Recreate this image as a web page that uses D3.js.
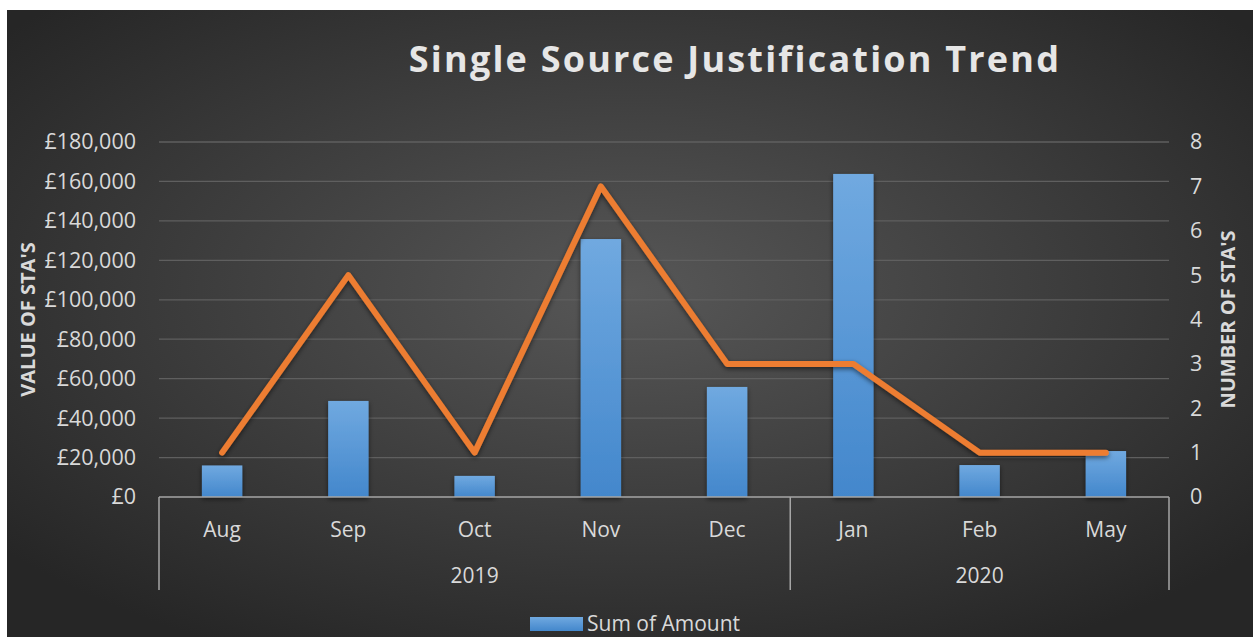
<!DOCTYPE html>
<html>
<head>
<meta charset="utf-8">
<script src="https://cdn.jsdelivr.net/npm/d3@7"></script>
<style>
  body { margin: 0; background: #fff; }
  text { font-family: "Open Sans", "Noto Sans", sans-serif; }
</style>
</head>
<body>
<script>
const months = ['Aug', 'Sep', 'Oct', 'Nov', 'Dec', 'Jan', 'Feb', 'May'];
const years = [
  { label: '2019', from: 0, to: 5 },
  { label: '2020', from: 5, to: 8 }
];
const amounts = [16000, 48700, 10700, 130800, 55800, 163800, 16200, 23300];
const counts = [1, 5, 1, 7, 3, 3, 1, 1];
const leftTicks = [0, 20000, 40000, 60000, 80000, 100000, 120000, 140000, 160000, 180000];
const rightTicks = [0, 1, 2, 3, 4, 5, 6, 7, 8];

const W = 1253, H = 637;
const plot = { left: 159, right: 1169, top: 142, bottom: 497 };

const svg = d3.select('body').append('svg')
  .attr('width', W).attr('height', H);

const defs = svg.append('defs');
const bg = defs.append('radialGradient').attr('id', 'bg')
  .attr('cx', '50%').attr('cy', '45%').attr('r', '65%');
bg.append('stop').attr('offset', '0%').attr('stop-color', '#575757');
bg.append('stop').attr('offset', '100%').attr('stop-color', '#262626');

const barGrad = defs.append('linearGradient').attr('id', 'bar')
  .attr('x1', 0).attr('y1', 0).attr('x2', 0).attr('y2', 1);
barGrad.append('stop').attr('offset', '0%').attr('stop-color', '#70a9e0');
barGrad.append('stop').attr('offset', '100%').attr('stop-color', '#4387cc');

const shadow = defs.append('filter').attr('id', 'shadow')
  .attr('x', '-20%').attr('y', '-20%').attr('width', '140%').attr('height', '140%');
shadow.append('feDropShadow').attr('dx', 0).attr('dy', 2)
  .attr('stdDeviation', 2.5).attr('flood-color', '#000').attr('flood-opacity', 0.55);

svg.append('rect').attr('x', 7).attr('y', 10)
  .attr('width', W - 7).attr('height', H - 10).attr('fill', 'url(#bg)');

const x = d3.scaleBand().domain(months).range([plot.left, plot.right]).paddingInner(0.68).paddingOuter(0.34);
const yL = d3.scaleLinear().domain([0, 180000]).range([plot.bottom, plot.top]);
const yR = d3.scaleLinear().domain([0, 8]).range([plot.bottom, plot.top]);

// gridlines
svg.append('g').selectAll('line').data(leftTicks.slice(1)).join('line')
  .attr('x1', plot.left).attr('x2', plot.right)
  .attr('y1', d => yL(d)).attr('y2', d => yL(d))
  .attr('stroke', '#5f5f5f').attr('stroke-width', 1.3);

// left axis
const axL = svg.append('g').attr('transform', `translate(${plot.left},0)`)
  .call(d3.axisLeft(yL).tickValues(leftTicks).tickSize(0).tickPadding(23)
    .tickFormat(d => '£' + d3.format(',')(d)));
axL.select('.domain').remove();
axL.selectAll('text').attr('fill', '#d9d9d9').style('font-size', '21.5px');

// right axis
const axR = svg.append('g').attr('transform', `translate(${plot.right},0)`)
  .call(d3.axisRight(yR).tickValues(rightTicks).tickSize(0).tickPadding(21));
axR.select('.domain').remove();
axR.selectAll('text').attr('fill', '#d9d9d9').style('font-size', '21.5px');

// bars
svg.append('g').selectAll('rect').data(amounts).join('rect')
  .attr('x', (d, i) => x(months[i]))
  .attr('y', d => yL(d))
  .attr('width', x.bandwidth())
  .attr('height', d => yL(0) - yL(d))
  .attr('fill', 'url(#bar)')
  .attr('filter', 'url(#shadow)');

// line
const line = d3.line()
  .x((d, i) => x(months[i]) + x.bandwidth() / 2)
  .y(d => yR(d));
svg.append('path').datum(counts)
  .attr('d', line)
  .attr('fill', 'none')
  .attr('stroke', '#ed7d31')
  .attr('stroke-width', 6)
  .attr('stroke-linecap', 'round')
  .attr('stroke-linejoin', 'round')
  .attr('filter', 'url(#shadow)');

// category axis
const axisCol = '#a6a6a6';
svg.append('line').attr('x1', plot.left).attr('x2', plot.right)
  .attr('y1', plot.bottom).attr('y2', plot.bottom)
  .attr('stroke', axisCol).attr('stroke-width', 1.5);
const step = x.step();
const yearBounds = [0, 5, 8];
svg.append('g').selectAll('line').data(yearBounds).join('line')
  .attr('x1', d => plot.left + d * step).attr('x2', d => plot.left + d * step)
  .attr('y1', plot.bottom).attr('y2', 590)
  .attr('stroke', axisCol).attr('stroke-width', 1.5);

svg.append('g').selectAll('text').data(months).join('text')
  .attr('x', d => x(d) + x.bandwidth() / 2)
  .attr('y', 537)
  .attr('text-anchor', 'middle')
  .attr('fill', '#d9d9d9')
  .style('font-size', '21px')
  .text(d => d);

svg.append('g').selectAll('text').data(years).join('text')
  .attr('x', d => plot.left + (d.from + d.to) / 2 * step)
  .attr('y', 583)
  .attr('text-anchor', 'middle')
  .attr('fill', '#d9d9d9')
  .style('font-size', '21px')
  .text(d => d.label);

// title
svg.append('text')
  .attr('x', 735).attr('y', 72)
  .attr('text-anchor', 'middle')
  .attr('fill', '#e6e6e6')
  .style('font-size', '36px')
  .style('font-weight', 'bold')
  .style('letter-spacing', '2.2px')
  .text('Single Source Justification Trend');

// axis titles
svg.append('text')
  .attr('transform', `translate(35,${(plot.top + plot.bottom) / 2}) rotate(-90)`)
  .attr('text-anchor', 'middle')
  .attr('fill', '#d9d9d9')
  .style('font-size', '20px')
  .style('font-weight', 'bold')
  .text("VALUE OF STA'S");

svg.append('text')
  .attr('transform', `translate(1235,${(plot.top + plot.bottom) / 2}) rotate(-90)`)
  .attr('text-anchor', 'middle')
  .attr('fill', '#d9d9d9')
  .style('font-size', '20px')
  .style('font-weight', 'bold')
  .text("NUMBER OF STA'S");

// legend
const lg = svg.append('g').attr('transform', 'translate(530,617)');
lg.append('rect').attr('width', 53).attr('height', 14).attr('fill', 'url(#bar)');
lg.append('text').attr('x', 57).attr('y', 14)
  .attr('fill', '#d9d9d9').style('font-size', '21px')
  .text('Sum of Amount');
</script>
</body>
</html>
